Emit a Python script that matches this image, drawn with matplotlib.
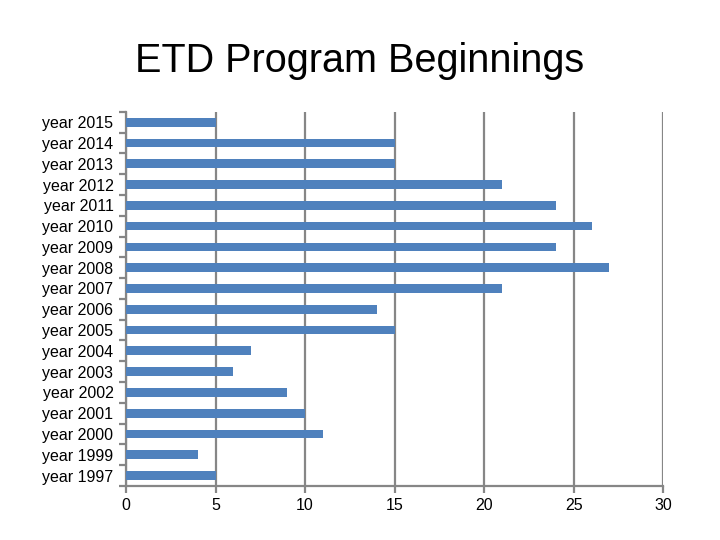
import matplotlib
matplotlib.use("Agg")
import matplotlib.pyplot as plt
import numpy as np

years = ["year 1997", "year 1999", "year 2000", "year 2001", "year 2002", "year 2003",
         "year 2004", "year 2005", "year 2006", "year 2007", "year 2008", "year 2009",
         "year 2010", "year 2011", "year 2012", "year 2013", "year 2014", "year 2015"]
counts = [5, 4, 11, 10, 9, 6, 7, 15, 14, 21, 27, 24, 26, 24, 21, 15, 15, 5]
x_ticks = [0, 5, 10, 15, 20, 25, 30]

plt.rcParams['font.family'] = ['Liberation Sans', 'DejaVu Sans']
grey = "#868686"

fig = plt.figure(figsize=(7.2, 5.4), dpi=100)
ax = fig.add_axes([0.175, 0.1, 0.746, 0.693])

y = np.arange(len(years))
ax.barh(y, counts, height=0.42, color="#4F81BD", zorder=3)

ax.set_xlim(0, 30)
ax.set_ylim(-0.5, len(years) - 0.5)
ax.set_xticks(x_ticks)
ax.set_xticklabels([str(t) for t in x_ticks], fontsize=11.5)
ax.set_yticks(y)
ax.set_yticklabels(years, fontsize=11.5)
ax.set_yticks(np.arange(-0.5, len(years), 1.0), minor=True)

ax.xaxis.grid(True, color=grey, linewidth=1.6, zorder=0)
ax.yaxis.grid(False)
for s in ["top", "right"]:
    ax.spines[s].set_visible(False)
for s in ["left", "bottom"]:
    ax.spines[s].set_color(grey)
    ax.spines[s].set_linewidth(1.6)

ax.tick_params(axis="y", which="major", length=0, pad=9)
ax.tick_params(axis="y", which="minor", length=5, width=1.6, color=grey)
ax.tick_params(axis="x", which="major", length=5, width=1.6, color=grey, pad=4)

fig.text(0.5, 0.887, "ETD Program Beginnings", ha="center", va="center", fontsize=28.5)

fig.savefig("out.png", dpi=100)
